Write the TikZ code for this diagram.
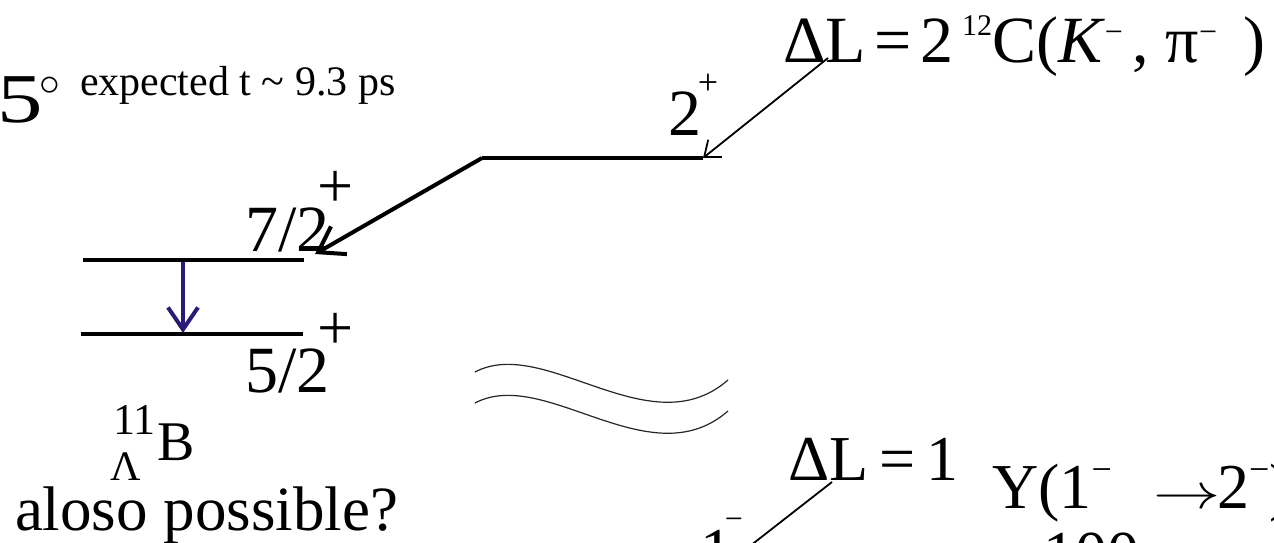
\documentclass[tikz,border=0pt]{standalone}
\usepackage{fontspec}
\setmainfont{Liberation Serif}
\usetikzlibrary{arrows.meta}
\newcommand\supminus[2]{\raisebox{#1}{\fontsize{#2}{#2}\selectfont −}}
\begin{document}
\begin{tikzpicture}[x=0.5pt,y=-0.5pt,
  txt/.style={inner sep=0pt, outer sep=0pt, anchor=base west},
  big/.style={font=\fontsize{33}{38}\selectfont},
  mid/.style={font=\fontsize{21}{26}\selectfont},
  plusmark/.style={inner sep=0pt, outer sep=0pt, font=\fontsize{32}{32}\selectfont},
  level/.style={line width=2.4pt},
  thickarrow/.style={line width=2pt, -{Straight Barb[length=12pt,width=16pt,line width=2pt]}},
  thinarrow/.style={line width=0.9pt, -{Straight Barb[length=7pt,width=11pt,line width=0.9pt]}},
  bluearrow/.style={line width=2pt, draw=indigo, -{Straight Barb[length=11pt,width=15pt,line width=2pt]}},
  thinline/.style={line width=0.9pt},
  wave/.style={line width=0.6pt, draw=black!85}
]
\definecolor{indigo}{HTML}{2B1B78}
\useasboundingbox (0,0) rectangle (1274,542);
\clip (0,0) rectangle (1274,542);

% texts
\node[inner sep=0pt, outer sep=0pt, anchor=base east, font=\fontsize{35}{38}\selectfont] (five) at (43,122) {\scalebox{1.3}[1]{5}};
\node[inner sep=0pt, font=\fontsize{22}{22}\selectfont] (deg) at (50,86) {$\circ$};
\node[txt,mid] (expected) at (80,95) {expected t \textasciitilde{} 9.3 ps};
\node[txt,big] (dl2) at (783,62) {ΔL\hspace{0.13em}=\hspace{0.13em}2};
\node[txt,big] (c12) at (962,62) {\raisebox{0.4em}{\fontsize{15}{15}\selectfont 12}C(\textit{K}\supminus{0.3em}{16}\hspace{0.15em}, π\supminus{0.3em}{16}};
\node[txt,big] (rpar) at (1243,62) {)};
\node[txt,big] (two) at (668,135) {2};
\node[inner sep=0pt, font=\fontsize{18}{18}\selectfont] (twoplus) at (708,84) {+};
\node[txt,big] (s72) at (245,251) {7/2};
\node[plusmark] (p72) at (336,189) {+};
\node[txt,big] (s52) at (245,392) {5/2};
\node[plusmark] (p52) at (336,331) {+};
\node[txt,font=\fontsize{22}{22}\selectfont] (eleven) at (113,434) {11};
\node[txt,font=\fontsize{28}{28}\selectfont] (bnode) at (157,460) {B};
\node[txt,font=\fontsize{21}{21}\selectfont] (lam) at (110,480) {Λ};
\node[txt,font=\fontsize{31.5}{36}\selectfont] (aloso) at (15,530) {aloso possible?};
\node[txt,font=\fontsize{32}{36}\selectfont] (dl1) at (788,480) {ΔL\hspace{0.17em}=\hspace{0.17em}1};
\node[txt,font=\fontsize{32}{36}\selectfont] (ytr) at (992,508) {Y(1\supminus{0.42em}{18}};
\node[txt,font=\fontsize{29}{29}\selectfont] (yarrow) at (1153,508) {\scalebox{1.35}[1]{$\rightarrow$}};
\node[txt,font=\fontsize{32}{36}\selectfont] (ytwo) at (1217,508) {2\supminus{0.42em}{18})};
\node[txt,font=\fontsize{32}{36}\selectfont] (one) at (700,572) {1};
\node[inner sep=0pt, font=\fontsize{16}{16}\selectfont] (oneminus) at (734,524) {−};
\node[txt,font=\fontsize{32}{36}\selectfont] (hundred) at (1043,575) {100};

% coordinates
\coordinate (a72l) at (83,260);
\coordinate (a72r) at (304,260);
\coordinate (a52l) at (81,334);
\coordinate (a52r) at (303,334);
\coordinate (l2l) at (482,158);
\coordinate (l2r) at (703,158);
\coordinate (l72tip) at (315,254);
\coordinate (dl2foot) at (828,58);
\coordinate (blueTop) at (183,262);
\coordinate (blueBot) at (183,333);
\coordinate (dl1foot) at (832,482);
\coordinate (l1end) at (741,553);

% levels
\draw[level] (a72l) -- (a72r);
\draw[level] (a52l) -- (a52r);
\draw[level, line cap=butt] (l2r) -- (l2l);
\draw[thickarrow] (l2l) -- (l72tip);
\draw[thinarrow] (dl2foot) -- (l2r);
\draw[bluearrow] (blueTop) -- (blueBot);
\draw[thinline] (dl1foot) -- (l1end);

% break marks
\draw[wave] (475,372) .. controls (545,335) and (650,448) .. (728,380);
\draw[wave] (475,403) .. controls (545,366) and (650,479) .. (728,411);
\end{tikzpicture}
\end{document}
